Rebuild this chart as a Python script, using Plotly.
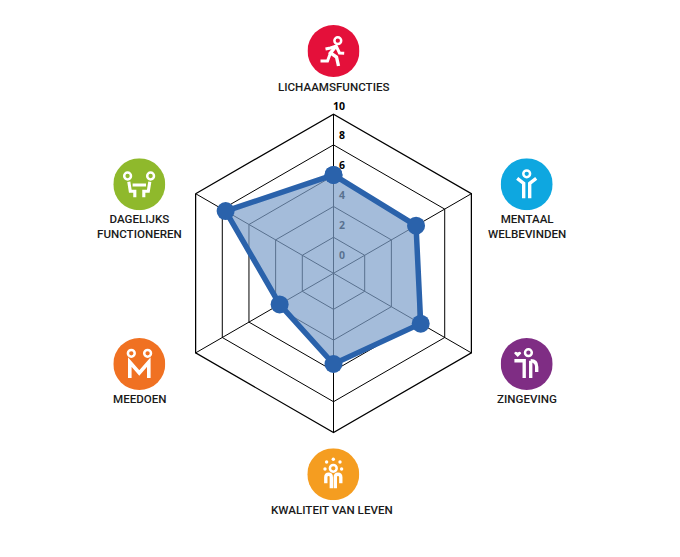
import base64
import plotly.graph_objects as go

# ---- data ----
categories = ["LICHAAMSFUNCTIES", "MENTAAL WELBEVINDEN", "ZINGEVING",
              "KWALITEIT VAN LEVEN", "MEEDOEN", "DAGELIJKS FUNCTIONEREN"]
values = [6.05, 5.85, 6.2, 5.55, 3.7, 7.75]
ring_values = [2, 4, 6, 8, 10]
tick_labels = ["0", "2", "4", "6", "8", "10"]
radial_range = [-0.34, 10]

# ---- styling / layout (pixels in the 680x557 page) ----
W, H = 680, 557
CX, CY, R = 333.5, 273.3, 159.2
TICK_X = [342, 342, 342, 342, 342, 339]
TICK_Y = [256, 226, 196, 166, 136, 107]
BLUE = "#2a62ab"
FILL = "rgba(126,160,203,0.7)"
FONT = "Roboto, sans-serif"

HEAD = '<circle cx="{}" cy="{}" r="3.4" fill="none" stroke="#fff" stroke-width="2.5"/>'
DOT = '<circle cx="{}" cy="{}" r="1.7" fill="#fff"/>'
def P(d, w=2.8):
    return f'<path d="{d}" fill="none" stroke="#fff" stroke-width="{w * 1.2}" stroke-linejoin="miter"/>'

glyphs = [
    HEAD.format(4.3, -10.3) + P("M-8,-2 L-3,-3 L2.7,-5 L6,2 L10.7,2.3", 2.5)
    + P("M2.7,-5 L-3,2 L3,6 L5,15", 2.8) + P("M-3,2 L-6,10 L-13,10", 2.5),
    HEAD.format(0, -10.5) + P("M-9.5,-6 L-3,-1 L-3,14") + P("M9.5,-6 L3,-1 L3,14"),
    HEAD.format(1.7, -11.3) + '<path d="M-9,-7 L-12.5,-10.5 Q-12,-13.5 -9,-11.5 Q-6,-13.5 -5.5,-10.5 Z" fill="#fff"/>'
    + P("M-12.3,-3.3 L-2.5,-3.3 L-2.5,14") + P("M4,-3.3 L4,14") + P("M4,-3.3 Q10,-3.3 10,3 L10,8"),
    HEAD.format(0, -6) + DOT.format(0, -15) + DOT.format(-6.7, -12.3) + DOT.format(6.7, -12.3)
    + DOT.format(-8.3, -5.3) + DOT.format(8.3, -5.3)
    + P("M-7.5,9 L-7.5,3 Q-7.5,0 -4.5,0 Q-2,0 -2,3 L-2,14") + P("M7.5,9 L7.5,3 Q7.5,0 4.5,0 Q2,0 2,3 L2,14"),
    HEAD.format(-8, -10.7) + HEAD.format(8.3, -10.7) + P("M-9.5,14 L-9.5,-2 L0,9 L9.5,-2 L9.5,14", 3),
    HEAD.format(-11.7, -8.3) + HEAD.format(11.3, -8.3) + P("M-6.7,0.7 L6.7,0.7", 2.6)
    + P("M-10.5,-2.5 L-9,7 L-4.5,7 L-4.5,13", 2.6) + P("M10.5,-2.5 L9,7 L4.5,7 L4.5,13", 2.6),
]
icon_colors = ["#e4103a", "#0ea7e0", "#7f2d84", "#f59d20", "#f07122", "#8fb92c"]
icon_x = [333.5, 526.7, 526.7, 333.3, 139.3, 139.3]
icon_y = [51, 184.3, 364, 474.3, 364, 184.3]
label_lines = [["LICHAAMSFUNCTIES"], ["MENTAAL", "WELBEVINDEN"], ["ZINGEVING"],
               ["KWALITEIT VAN LEVEN"], ["MEEDOEN"], ["DAGELIJKS", "FUNCTIONEREN"]]
label_x = [333.5, 526.7, 526.7, 332, 139.5, 139]
label_y = [87, 226, 399, 510, 399, 226]

fig = go.Figure()

# tick numbers sit beneath the filled polygon (hidden pixel-scaled axes)
fig.add_trace(go.Scatter(x=TICK_X, y=TICK_Y, text=tick_labels, mode="text", hoverinfo="skip",
                         showlegend=False, cliponaxis=False,
                         textfont=dict(family="Open Sans, sans-serif", size=10.5, color="#000", weight=700)))

fig.add_trace(go.Scatterpolar(
    r=values + values[:1], theta=categories + categories[:1], mode="lines+markers",
    fill="toself", fillcolor=FILL, showlegend=False, cliponaxis=False,
    line=dict(color=BLUE, width=5.5, shape="linear"),
    marker=dict(color=BLUE, size=18),
))

annotations = []
for lines, x, y in zip(label_lines, label_x, label_y):
    annotations.append(dict(
        x=x, y=y, xref="x", yref="y", text="<br>".join(lines), showarrow=False,
        align="center", font=dict(family=FONT, size=11.6, color="#1a1a1a", weight=500),
        xanchor="center", yanchor="middle", borderpad=0, captureevents=False))

images = []
for g, c, x, y in zip(glyphs, icon_colors, icon_x, icon_y):
    svg = (f'<svg xmlns="http://www.w3.org/2000/svg" width="208" height="208" viewBox="-26 -26 52 52">'
           f'<circle cx="0" cy="0" r="26" fill="{c}"/>{g}</svg>')
    src = "data:image/svg+xml;base64," + base64.b64encode(svg.encode()).decode()
    images.append(dict(source=src, xref="paper", yref="paper", x=x / W, y=1 - y / H,
                       sizex=52 / W, sizey=52 / H, xanchor="center", yanchor="middle",
                       sizing="stretch", layer="above"))

fig.update_layout(
    width=W, height=H, margin=dict(l=0, r=0, t=0, b=0), showlegend=False,
    paper_bgcolor="#fff", plot_bgcolor="rgba(0,0,0,0)",
    xaxis=dict(visible=False, range=[0, W], domain=[0, 1], fixedrange=True),
    yaxis=dict(visible=False, range=[H, 0], domain=[0, 1], fixedrange=True),
    annotations=annotations, images=images,
    polar=dict(
        domain=dict(x=[(CX - R) / W, (CX + R) / W], y=[1 - (CY + R) / H, 1 - (CY - R) / H]),
        bgcolor="rgba(0,0,0,0)", gridshape="linear",
        radialaxis=dict(range=radial_range, tickvals=ring_values, showticklabels=False, ticks="",
                        showline=False, showgrid=True, gridcolor="#000", gridwidth=1.15),
        angularaxis=dict(type="category", categoryarray=categories, rotation=90, direction="clockwise",
                         showticklabels=False, ticks="", showgrid=True, gridcolor="#000", gridwidth=1.15,
                         showline=True, linecolor="#000", linewidth=1.25),
    ),
)
fig.write_html("out.html", config={"displayModeBar": False},
               post_script="document.body.style.margin='0';")
